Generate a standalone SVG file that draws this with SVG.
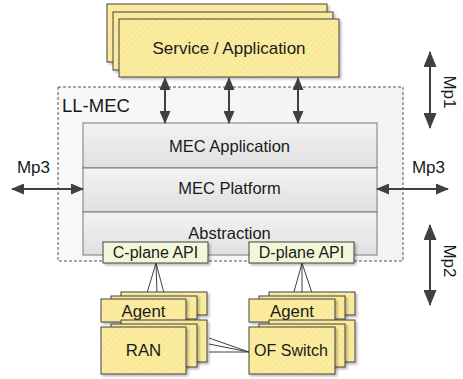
<svg xmlns="http://www.w3.org/2000/svg" width="463" height="379" viewBox="0 0 463 379">
<defs>
  <pattern id="hatchY" width="4" height="4" patternUnits="userSpaceOnUse" patternTransform="rotate(45)">
    <rect width="4" height="4" fill="#fbeca0"/>
    <line x1="0" y1="0" x2="0" y2="4" stroke="#f3df85" stroke-width="1.2"/>
  </pattern>
  <pattern id="hatchG" width="4" height="4" patternUnits="userSpaceOnUse" patternTransform="rotate(45)">
    <rect width="4" height="4" fill="#f4f9de"/>
    <line x1="0" y1="0" x2="0" y2="4" stroke="#e6f0c2" stroke-width="1.2"/>
  </pattern>
  <linearGradient id="gray" x1="0" y1="0" x2="0" y2="1">
    <stop offset="0" stop-color="#f3f3f3"/>
    <stop offset="1" stop-color="#e0e0e0"/>
  </linearGradient>
  <linearGradient id="outer" x1="0" y1="0" x2="1" y2="0">
    <stop offset="0" stop-color="#f8f8f8"/>
    <stop offset="1" stop-color="#f3f3f3"/>
  </linearGradient>
  <filter id="sh" x="-10%" y="-10%" width="130%" height="140%">
    <feDropShadow dx="2" dy="2" stdDeviation="1" flood-color="#000" flood-opacity="0.25"/>
  </filter>
  <marker id="ah" viewBox="0 0 13 11" refX="12" refY="5.5" markerWidth="13" markerHeight="11" markerUnits="userSpaceOnUse" orient="auto-start-reverse">
    <path d="M0,0 L13,5.5 L0,11 Z" fill="#404040"/>
  </marker>
  <marker id="ahL" viewBox="0 0 16 13" refX="15" refY="6.5" markerWidth="16" markerHeight="13" markerUnits="userSpaceOnUse" orient="auto-start-reverse">
    <path d="M0,0 L16,6.5 L0,13 Z" fill="#404040"/>
  </marker>
</defs>
<style>
  text { font-family: "Liberation Sans", Arial, sans-serif; fill: #1a1a1a; }
  .yb { fill: url(#hatchY); stroke: #404040; stroke-width: 1; filter: url(#sh); }
  .gb { fill: url(#hatchG); stroke: #404040; stroke-width: 1; filter: url(#sh); }
  .layer { fill: url(#gray); stroke: #7a7a7a; stroke-width: 1; }
  .arr { stroke: #404040; stroke-width: 2; fill: none; marker-start: url(#ah); marker-end: url(#ah); }
  .arrL { stroke: #404040; stroke-width: 2; fill: none; marker-start: url(#ahL); marker-end: url(#ahL); }
  .thin { stroke: #404040; stroke-width: 1; fill: none; }
  .c { text-anchor: middle; }
</style>

<g id="ll-mec">
  <rect x="58" y="87" width="345" height="174" fill="url(#outer)" stroke="#555" stroke-width="1" stroke-dasharray="3,2"/>
  <text x="62" y="112" font-size="18.5">LL-MEC</text>
</g>

<g id="service-application">
  <rect class="yb" x="107" y="4" width="220" height="58"/>
  <rect class="yb" x="113" y="12" width="220" height="58"/>
  <rect class="yb" x="119" y="19" width="220" height="58"/>
  <text class="c" x="229" y="54" font-size="17">Service / Application</text>
</g>

<g id="mec-application">
  <rect class="layer" x="83" y="123" width="294" height="45"/>
  <text class="c" x="229.5" y="152" font-size="16.5">MEC Application</text>
</g>
<g id="mec-platform">
  <rect class="layer" x="83" y="168" width="294" height="44"/>
  <text class="c" x="229.5" y="194" font-size="16.5">MEC Platform</text>
</g>
<g id="abstraction">
  <rect class="layer" x="83" y="212" width="294" height="43"/>
  <text class="c" x="229.5" y="239" font-size="16.5">Abstraction</text>
</g>

<g id="connectors">
  <line class="arr" x1="165" y1="78" x2="165" y2="123"/>
  <line class="arr" x1="229" y1="78" x2="229" y2="123"/>
  <line class="arr" x1="298" y1="78" x2="298" y2="123"/>
  <line class="arr" x1="12" y1="189" x2="83" y2="189"/>
  <line class="arr" x1="377" y1="189" x2="448" y2="189"/>
  <line class="arrL" x1="430" y1="52" x2="430" y2="128"/>
  <line class="arrL" x1="430" y1="225" x2="430" y2="305"/>
  <line class="thin" x1="156" y1="263" x2="147" y2="293"/>
  <line class="thin" x1="156" y1="263" x2="157" y2="293"/>
  <line class="thin" x1="156" y1="263" x2="164" y2="293"/>
  <line class="thin" x1="302" y1="263" x2="292" y2="299"/>
  <line class="thin" x1="302" y1="263" x2="302" y2="294"/>
  <line class="thin" x1="302" y1="263" x2="312" y2="293"/>
  <line class="thin" x1="209" y1="338" x2="249" y2="352"/>
  <line class="thin" x1="209" y1="344" x2="249" y2="352"/>
  <line class="thin" x1="209" y1="352" x2="249" y2="352"/>
</g>

<g id="mp-labels">
  <text class="c" x="33.5" y="173" font-size="17">Mp3</text>
  <text class="c" x="428.5" y="173" font-size="17">Mp3</text>
  <text class="c" x="444" y="92" font-size="17" transform="rotate(90 444 92)">Mp1</text>
  <text class="c" x="444" y="261" font-size="17" transform="rotate(90 444 261)">Mp2</text>
</g>

<g id="c-plane-api">
  <rect class="gb" x="103" y="242" width="105" height="21"/>
  <text class="c" x="155.5" y="258" font-size="16">C-plane API</text>
</g>
<g id="d-plane-api">
  <rect class="gb" x="249" y="242" width="105" height="21"/>
  <text class="c" x="301.5" y="258" font-size="16">D-plane API</text>
</g>

<g id="agent-ran">
  <rect class="yb" x="121" y="292" width="86" height="23"/>
  <rect class="yb" x="111" y="296" width="86" height="23"/>
  <rect class="yb" x="101" y="299" width="85" height="23"/>
  <text class="c" x="143.5" y="317" font-size="16.8">Agent</text>
</g>
<g id="ran">
  <rect class="yb" x="121" y="320" width="86" height="42"/>
  <rect class="yb" x="111" y="324" width="86" height="43"/>
  <rect class="yb" x="101" y="327" width="85" height="47"/>
  <text class="c" x="143.5" y="356" font-size="16.8">RAN</text>
</g>
<g id="agent-of">
  <rect class="yb" x="269" y="292" width="86" height="23"/>
  <rect class="yb" x="259" y="296" width="86" height="23"/>
  <rect class="yb" x="249" y="299" width="86" height="23"/>
  <text class="c" x="292" y="317" font-size="16.8">Agent</text>
</g>
<g id="of-switch">
  <rect class="yb" x="269" y="320" width="86" height="42"/>
  <rect class="yb" x="259" y="324" width="86" height="43"/>
  <rect class="yb" x="249" y="327" width="86" height="47"/>
  <text class="c" x="291" y="356" font-size="16">OF Switch</text>
</g>
</svg>
